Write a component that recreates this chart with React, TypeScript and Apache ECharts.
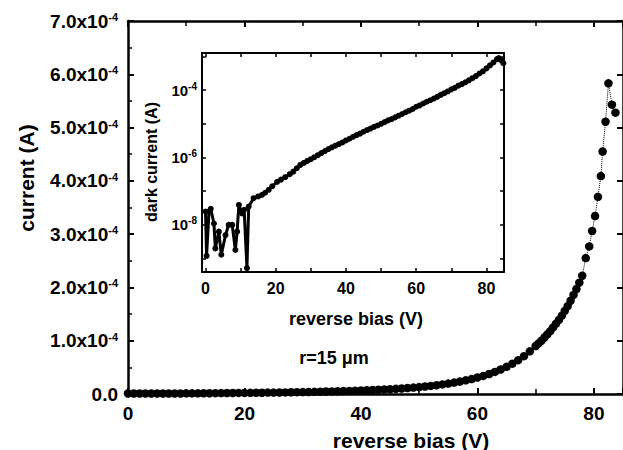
import { useEffect, useRef } from "react";
import * as echarts from "echarts";

const FONT = '"Liberation Sans", Arial, Helvetica, sans-serif';

// Main panel: reverse bias (V) vs current (units of 1e-4 A)
const mainBias = [
  0, 1, 2, 3, 4, 5, 6, 7, 8, 9,
  10, 11, 12, 13, 14, 15, 16, 17, 18, 19,
  20, 21, 22, 23, 24, 25, 26, 27, 28, 29,
  30, 31, 32, 33, 34, 35, 36, 37, 38, 39,
  40, 41, 42, 43, 44, 45, 46, 47, 48, 49,
  50, 51, 52, 53, 54, 55, 56, 57, 58, 59,
  60, 61, 62, 63, 64, 65, 66, 67, 68, 69,
  70, 70.5, 71, 71.5, 72, 72.5, 73, 73.5, 74, 74.5, 75, 75.5, 76, 76.5, 77, 77.5, 78,
  78.6, 79.2, 79.7, 80.2, 80.7, 81.2, 81.5, 82.0, 82.5, 83.1, 83.7,
];
const mainCurrentE4 = [
  0.01, 0.01, 0.01, 0.01, 0.01, 0.01, 0.01, 0.01, 0.01, 0.01,
  0.012, 0.012, 0.013, 0.014, 0.015, 0.016, 0.017, 0.018, 0.019, 0.02,
  0.021, 0.022, 0.023, 0.024, 0.026, 0.027, 0.029, 0.03, 0.032, 0.034,
  0.036, 0.038, 0.04, 0.043, 0.046, 0.049, 0.052, 0.055, 0.058, 0.062,
  0.066, 0.07, 0.075, 0.08, 0.085, 0.09, 0.097, 0.104, 0.112, 0.12,
  0.13, 0.14, 0.152, 0.165, 0.18, 0.196, 0.214, 0.234, 0.256, 0.28,
  0.31, 0.34, 0.375, 0.415, 0.46, 0.51, 0.57, 0.635, 0.71, 0.8,
  0.9, 0.95, 1.0, 1.06, 1.12, 1.18, 1.25, 1.32, 1.39, 1.47, 1.56, 1.65, 1.75, 1.86, 1.97, 2.09, 2.22,
  2.55, 2.77, 3.06, 3.34, 3.7, 4.09, 4.55, 5.11, 5.83, 5.43, 5.28,
];

// Inset: reverse bias (V) vs dark current (A), log scale
const insetBias = [
  0, 0.3, 1.0, 1.5, 2.4, 2.8, 3.8, 4.5, 5.7, 6.6, 7.6, 8.5, 9.0, 9.5, 10.4, 11.0, 11.8, 12.3, 13.7,
  15, 16.1, 17, 18, 19, 20.4, 21.5, 22.7, 24, 25, 26, 27,
  28, 29, 30, 31, 32, 33, 34, 35, 36, 37, 38, 39, 40, 41, 42, 43, 44, 45, 46, 47, 48, 49,
  50, 51, 52, 53, 54, 55, 56, 57, 58, 59, 60, 61, 62, 63, 64, 65, 66, 67, 68, 69,
  70, 71, 72, 73, 74, 75, 76, 77, 78, 79, 80, 81, 82, 83, 83.5, 84, 84.8,
];
const insetCurrent = [
  2.5e-8, 1.2e-9, 2.5e-8, 3.0e-8, 1.1e-8, 2.0e-9, 6.3e-9, 1.3e-9, 5.0e-9, 1.0e-8, 1.0e-8, 1.8e-9, 6.3e-9, 3.9e-8, 2.2e-8, 2.8e-8, 5.2e-10, 3.5e-8, 6.2e-8,
  7.0e-8, 7.8e-8, 9.0e-8, 1.1e-7, 1.4e-7, 1.9e-7, 2.2e-7, 2.6e-7, 3.2e-7, 3.8e-7, 4.8e-7, 6.0e-7,
  6.9e-7, 7.9e-7, 8.9e-7, 1.02e-6, 1.17e-6, 1.35e-6, 1.55e-6, 1.78e-6, 2.0e-6, 2.24e-6, 2.5e-6, 2.8e-6, 3.2e-6, 3.6e-6, 4.1e-6, 4.6e-6, 5.1e-6, 5.8e-6, 6.5e-6, 7.2e-6, 8.1e-6, 8.9e-6,
  1.0e-5, 1.12e-5, 1.26e-5, 1.38e-5, 1.55e-5, 1.74e-5, 1.95e-5, 2.2e-5, 2.45e-5, 2.75e-5, 3.2e-5, 3.5e-5, 4.0e-5, 4.5e-5, 5.0e-5, 5.6e-5, 6.3e-5, 7.2e-5, 8.1e-5, 9.1e-5,
  1.05e-4, 1.17e-4, 1.35e-4, 1.5e-4, 1.7e-4, 1.95e-4, 2.25e-4, 2.6e-4, 3.1e-4, 3.6e-4, 4.4e-4, 5.4e-4, 6.6e-4, 8.3e-4, 8.9e-4, 7.9e-4, 6.3e-4,
];

const insetXLabels = [0, 20, 40, 60, 80];
const insetXTicks = [0, 10, 20, 30, 40, 50, 60, 70, 80];

const labelStyle = (size: number) => ({
  color: "#000",
  fontFamily: FONT,
  fontWeight: "bold" as const,
  fontSize: size,
});

const axisLine = (w: number) => ({ show: true, onZero: false, lineStyle: { color: "#000", width: w } });
const tick = (len: number, w: number, extra: any = {}) => ({
  show: true, inside: true, length: len, lineStyle: { color: "#000", width: w }, ...extra,
});
const minor = (len: number) => ({ show: true, splitNumber: 2, length: len, lineStyle: { color: "#000", width: 1.5 } });

export default function App() {
  const ref = useRef<HTMLDivElement>(null);
  useEffect(() => {
    const chart = echarts.init(ref.current!, null, { renderer: "svg" });
    const supRich = {
      sup: { fontSize: 11, fontWeight: "bold", fontFamily: FONT, color: "#000", verticalAlign: "top", padding: [0, 0, 8, 0] },
    };
    const option: any = {
      animation: false,
      backgroundColor: "#fff",
      grid: [
        { left: 128, top: 21, width: 498, height: 373 },
        { left: 202, top: 53, width: 302, height: 219 },
      ],
      xAxis: [
        {
          type: "value", gridIndex: 0, min: 0, max: 85, interval: 20,
          axisLine: axisLine(2.5),
          axisTick: tick(6, 2),
          minorTick: minor(5),
          splitLine: { show: false },
          axisLabel: { ...labelStyle(19), margin: 10, showMaxLabel: false },
        },
        {
          type: "value", gridIndex: 0, position: "top", min: 0, max: 85, interval: 20,
          axisLine: axisLine(2.5),
          axisTick: tick(6, 2),
          minorTick: minor(5),
          splitLine: { show: false },
          axisLabel: { show: false },
        },
        {
          type: "value", gridIndex: 1, min: -1, max: 85,
          axisLine: axisLine(2),
          axisTick: tick(4, 1.5, { customValues: insetXTicks }),
          splitLine: { show: false },
          axisLabel: { ...labelStyle(16), margin: 8, customValues: insetXLabels },
        },
        {
          type: "value", gridIndex: 1, position: "top", min: -1, max: 85,
          axisLine: axisLine(2),
          axisTick: tick(4, 1.5, { customValues: insetXTicks }),
          splitLine: { show: false },
          axisLabel: { show: false },
        },
      ],
      yAxis: [
        {
          type: "value", gridIndex: 0, min: 0, max: 7e-4, interval: 1e-4,
          axisLine: axisLine(2.5),
          axisTick: tick(6, 2),
          minorTick: minor(4),
          splitLine: { show: false },
          axisLabel: {
            ...labelStyle(19), margin: 10,
            formatter: (v: number) => (v === 0 ? "0.0" : `${(v * 1e4).toFixed(1)}x10{sup|-4}`),
            rich: supRich,
          },
        },
        {
          type: "value", gridIndex: 0, position: "right", min: 0, max: 7e-4, interval: 1e-4,
          axisLine: axisLine(2.5),
          axisTick: tick(6, 2),
          splitLine: { show: false },
          axisLabel: { show: false },
        },
        {
          type: "log", logBase: 10, gridIndex: 1, min: 4e-10, max: 1.26e-3,
          axisLine: axisLine(2),
          axisTick: tick(4, 1.5),
          splitLine: { show: false },
          axisLabel: {
            ...labelStyle(15), margin: 5,
            formatter: (v: number) => {
              const e = Math.round(Math.log10(v));
              return e % 2 === 0 && Math.abs(Math.log10(v) - e) < 0.01 ? `10{sup|${e}}` : "";
            },
            rich: { sup: { ...supRich.sup, fontSize: 10 } },
          },
        },
        {
          type: "log", logBase: 10, gridIndex: 1, position: "right", min: 4e-10, max: 1.26e-3,
          axisLine: axisLine(2),
          axisTick: tick(4, 1.5),
          splitLine: { show: false },
          axisLabel: { show: false },
        },
      ],
      series: [
        {
          type: "line", xAxisIndex: 0, yAxisIndex: 0,
          data: mainBias.map((v, i) => [v, mainCurrentE4[i] * 1e-4]),
          symbol: "circle", symbolSize: 8.5, showAllSymbol: true,
          itemStyle: { color: "#000" },
          lineStyle: { color: "#000", width: 1, type: "dotted" },
          clip: false, z: 2,
        },
        {
          type: "line", xAxisIndex: 2, yAxisIndex: 2,
          data: insetBias.map((v, i) => [v, insetCurrent[i]]),
          symbol: "circle", symbolSize: 6, showAllSymbol: true,
          itemStyle: { color: "#000" },
          lineStyle: { color: "#000", width: 3 },
          z: 4,
        },
      ],
      graphic: [
        { type: "text", x: 411, y: 440, style: { text: "reverse bias (V)", font: `bold 21px ${FONT}`, fill: "#000", textAlign: "center", textVerticalAlign: "middle" } },
        { type: "text", x: 26, y: 178, rotation: Math.PI / 2, style: { text: "current (A)", font: `bold 21px ${FONT}`, fill: "#000", textAlign: "center", textVerticalAlign: "middle" } },
        { type: "text", x: 356, y: 319, style: { text: "reverse bias (V)", font: `bold 18px ${FONT}`, fill: "#000", textAlign: "center", textVerticalAlign: "middle" } },
        { type: "text", x: 151, y: 162, rotation: Math.PI / 2, style: { text: "dark current (A)", font: `bold 16px ${FONT}`, fill: "#000", textAlign: "center", textVerticalAlign: "middle" } },
        { type: "text", x: 334, y: 358, style: { text: "r=15 μm", font: `bold 18px ${FONT}`, fill: "#000", textAlign: "center", textVerticalAlign: "middle" } },
      ],
    };
    chart.setOption(option);
    return () => chart.dispose();
  }, []);
  return (
    <div
      ref={ref}
      style={{ position: "fixed", left: 0, top: 0, width: 623, height: 450, background: "#fff" }}
    />
  );
}
